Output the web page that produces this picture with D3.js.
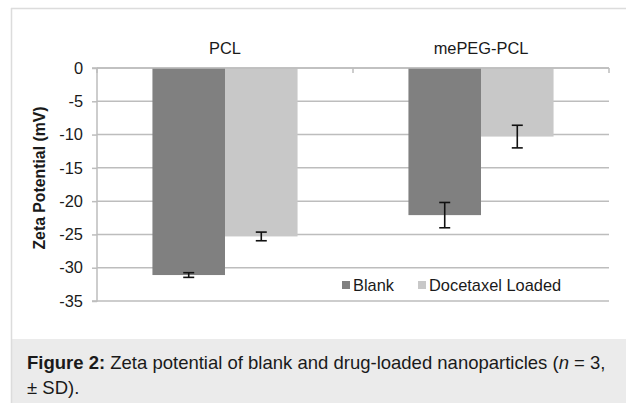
<!DOCTYPE html>
<html><head><meta charset="utf-8">
<script src="https://cdn.jsdelivr.net/npm/d3@7"></script>
<style>
html,body{margin:0;padding:0;background:#fff;}
svg{display:block;}
</style></head>
<body>
<svg id="chart" width="626" height="403"></svg>
<script>
const categories = ["PCL", "mePEG-PCL"];
const seriesNames = ["Blank", "Docetaxel Loaded"];
const blankValues = [-31.1, -22.1];
const blankSD = [0.35, 1.9];
const loadedValues = [-25.3, -10.3];
const loadedSD = [0.65, 1.7];
const yTicks = [0, -5, -10, -15, -20, -25, -30, -35];
const colors = ["#808080", "#c8c8c8"];

(function () {
const svg = d3.select("#chart");
const font = "Liberation Sans, Arial, sans-serif";
const fs = 16.4;

// outer frame
svg.append("rect").attr("x", 11).attr("y", 339).attr("width", 615).attr("height", 64).attr("fill", "#ebebeb");
svg.append("line").attr("x1", 11).attr("x2", 626).attr("y1", 8.5).attr("y2", 8.5).attr("stroke", "#dcdcdc").attr("stroke-width", 1.5);
svg.append("line").attr("x1", 11.5).attr("x2", 11.5).attr("y1", 8).attr("y2", 403).attr("stroke", "#dcdcdc").attr("stroke-width", 1.5);

const pL = 97, pR = 609, pT = 68, pB = 301;
const x0 = d3.scaleBand().domain(categories).range([pL, pR]).paddingInner(0).paddingOuter(0);
const x1 = d3.scaleBand().domain(seriesNames).range([0, x0.bandwidth()]).paddingInner(0).paddingOuter(0.764);
const y = d3.scaleLinear().domain([0, -35]).range([pT, pB]);

// gridlines
svg.append("g").selectAll("line").data(yTicks).join("line")
  .attr("x1", pL).attr("x2", pR)
  .attr("y1", d => y(d)).attr("y2", d => y(d))
  .attr("stroke", "#bdbdbd").attr("stroke-width", 1.5);

// y axis
const yAxis = svg.append("g").attr("transform", `translate(${pL},0)`)
  .call(d3.axisLeft(y).tickValues(yTicks).tickSize(5).tickPadding(9).tickFormat(d => String(d)));
yAxis.select(".domain").attr("stroke", "#bdbdbd").attr("stroke-width", 1.5).attr("d", `M-5,${pT}H0V${pB}H-5`);
yAxis.selectAll(".tick line").attr("stroke", "#bdbdbd").attr("stroke-width", 1.5);
yAxis.selectAll(".tick text").attr("font-family", font).attr("font-size", fs).attr("fill", "#1a1a1a");

// category ticks at zero line
const catBounds = [pL, pL + x0.bandwidth(), pR];
svg.append("g").attr("transform", `translate(0,${pT})`).selectAll("line").data(catBounds).join("line")
  .attr("x1", d => d).attr("x2", d => d).attr("y1", 0).attr("y2", 5)
  .attr("stroke", "#bdbdbd").attr("stroke-width", 1.5);
svg.selectAll("text.cat").data(categories).join("text").attr("class", "cat")
  .attr("x", d => x0(d) + x0.bandwidth() / 2).attr("y", 54)
  .attr("text-anchor", "middle").attr("font-family", font).attr("font-size", fs).attr("fill", "#1a1a1a")
  .text(d => d);

// bars
const rows = [];
categories.forEach((c, i) => {
  rows.push({cat: c, s: seriesNames[0], v: blankValues[i], sd: blankSD[i], col: colors[0]});
  rows.push({cat: c, s: seriesNames[1], v: loadedValues[i], sd: loadedSD[i], col: colors[1]});
});
svg.append("g").selectAll("rect").data(rows).join("rect")
  .attr("x", d => x0(d.cat) + x1(d.s)).attr("width", x1.bandwidth())
  .attr("y", y(0)).attr("height", d => y(d.v) - y(0))
  .attr("fill", d => d.col);

// zero line on top
svg.append("line").attr("x1", pL).attr("x2", pR).attr("y1", y(0)).attr("y2", y(0))
  .attr("stroke", "#bdbdbd").attr("stroke-width", 1.5);

// error bars
const eb = svg.append("g").attr("stroke", "#111").attr("stroke-width", 1.6);
rows.forEach(d => {
  const cx = x0(d.cat) + x1(d.s) + x1.bandwidth() / 2;
  const ya = y(d.v + d.sd), yb = y(d.v - d.sd);
  eb.append("line").attr("x1", cx).attr("x2", cx).attr("y1", ya).attr("y2", yb);
  eb.append("line").attr("x1", cx - 5.5).attr("x2", cx + 5.5).attr("y1", ya).attr("y2", ya);
  eb.append("line").attr("x1", cx - 5.5).attr("x2", cx + 5.5).attr("y1", yb).attr("y2", yb);
});

// legend
const legX = [342, 418];
const leg = svg.append("g");
seriesNames.forEach((s, i) => {
  leg.append("rect").attr("x", legX[i]).attr("y", 281).attr("width", 8).attr("height", 8).attr("fill", colors[i]);
  leg.append("text").attr("x", legX[i] + 11).attr("y", 291).attr("font-family", font).attr("font-size", fs).attr("fill", "#1a1a1a").text(s);
});

// y label
svg.append("text").attr("transform", "translate(45,178) rotate(-90)")
  .attr("text-anchor", "middle").attr("font-family", font).attr("font-size", 15.8).attr("font-weight", "bold").attr("fill", "#1a1a1a")
  .text("Zeta Potential (mV)");

// caption
const cap = svg.append("text").attr("x", 27).attr("y", 369).attr("font-family", font).attr("font-size", 18.5).attr("fill", "#1a1a1a");
cap.append("tspan").attr("font-weight", "bold").text("Figure 2:");
cap.append("tspan").text(" Zeta potential of blank and drug-loaded nanoparticles (");
cap.append("tspan").attr("font-style", "italic").text("n");
cap.append("tspan").text(" = 3,");
svg.append("text").attr("x", 27).attr("y", 394).attr("font-family", font).attr("font-size", 18.5).attr("fill", "#1a1a1a").text("± SD).");
})();
</script>
</body></html>
